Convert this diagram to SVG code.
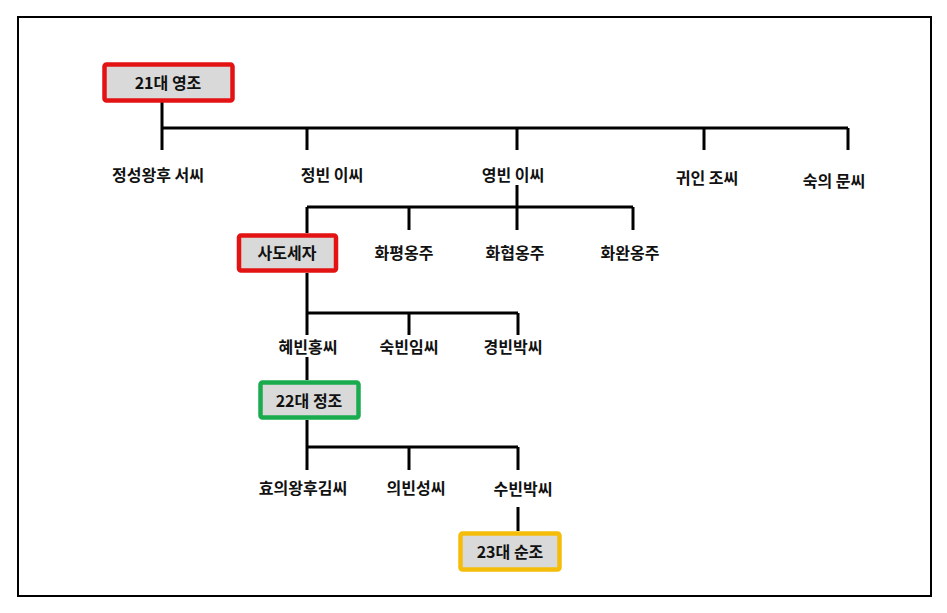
<svg xmlns="http://www.w3.org/2000/svg" width="947" height="613" viewBox="0 0 947 613">
<style>
.t{font-family:"Malgun Gothic","Noto Sans CJK KR",sans-serif;font-weight:bold;font-size:16px;fill:#111;text-anchor:middle;dominant-baseline:central}
.ln{stroke:#000;stroke-width:3;fill:none}
.box{fill:#d9d9d9;stroke-width:4.5}
</style>
<rect x="0" y="0" width="947" height="613" fill="#fff"/>
<rect x="18" y="17" width="913" height="579" fill="none" stroke="#000" stroke-width="2"/>
<g id="connectors" class="ln">
<path d="M162 102V150M162 128H848M307 128V150M517 128V150M704 128V150M848 128V150"/>
<path d="M517 185V230M307 207H633M307 207V233M409 207V230M633 207V230"/>
<path d="M307 273V335M307 313H518M409 313V335M518 313V335"/>
<path d="M307 357V380"/>
<path d="M307 420V470M307 447H518M409 447V470M518 447V470"/>
<path d="M518 507V531"/>
</g>
<g id="n-yeongjo"><rect class="box" x="104.5" y="64.5" width="128" height="36" rx="2" stroke="#e31313"/><text class="t" x="168" y="82">21대 영조</text></g>
<g id="n-jeongseong"><text class="t" x="158" y="174">정성왕후 서씨</text></g>
<g id="n-jeongbin"><text class="t" x="332" y="174">정빈 이씨</text></g>
<g id="n-yeongbin"><text class="t" x="513" y="174">영빈 이씨</text></g>
<g id="n-gwiin"><text class="t" x="707" y="177">귀인 조씨</text></g>
<g id="n-sukui"><text class="t" x="834" y="180">숙의 문씨</text></g>
<g id="n-sado"><rect class="box" x="239" y="235.5" width="97" height="35" rx="2" stroke="#e31313"/><text class="t" x="287" y="252">사도세자</text></g>
<g id="n-hwapyeong"><text class="t" x="404" y="252">화평옹주</text></g>
<g id="n-hwahyeop"><text class="t" x="515" y="252">화협옹주</text></g>
<g id="n-hwawan"><text class="t" x="630" y="252">화완옹주</text></g>
<g id="n-hyebin"><text class="t" x="308" y="346">혜빈홍씨</text></g>
<g id="n-sukbin"><text class="t" x="409" y="346">숙빈임씨</text></g>
<g id="n-gyeongbin"><text class="t" x="513" y="346">경빈박씨</text></g>
<g id="n-jeongjo"><rect class="box" x="260.5" y="382.5" width="98" height="35" rx="2" stroke="#1aab4f"/><text class="t" x="309" y="400">22대 정조</text></g>
<g id="n-hyoui"><text class="t" x="303" y="487">효의왕후김씨</text></g>
<g id="n-uibin"><text class="t" x="416" y="487">의빈성씨</text></g>
<g id="n-subin"><text class="t" x="523" y="488">수빈박씨</text></g>
<g id="n-sunjo"><rect class="box" x="460.5" y="533.5" width="99" height="36" rx="2" stroke="#f5bd0a"/><text class="t" x="510" y="551">23대 순조</text></g>
</svg>
